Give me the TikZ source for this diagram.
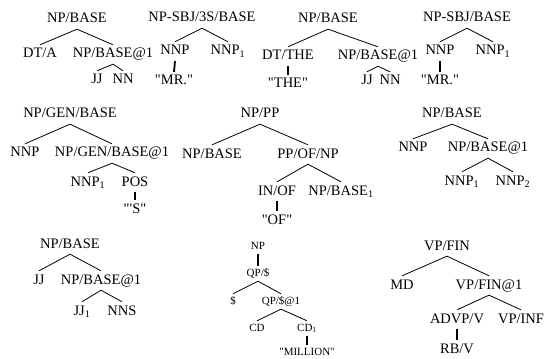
\documentclass[tikz,border=0pt]{standalone}
\usepackage{fontspec}
\newfontfamily\treefont{Liberation Serif}
\tikzset{
  tn/.style={anchor=base, inner xsep=1pt, inner ysep=3pt, text height=10pt, text depth=3pt, font=\treefont\fontsize{14.5}{17}\selectfont},
  tsm/.style={anchor=base, inner xsep=1pt, inner ysep=2.5pt, text height=7.5pt, text depth=2.5pt, font=\treefont\fontsize{11}{13}\selectfont},
  br/.style={line width=0.8pt},
  un/.style={line width=1.8pt},
}
\begin{document}
\begin{tikzpicture}[x=1pt,y=-1pt]
\useasboundingbox (0,0) rectangle (545,358);
% tree 1
\node[tn] (a) at (77,23) {NP/BASE};
\node[tn] (a1) at (40,58) {DT/A};
\node[tn] (a2) at (113,58) {NP/BASE@1};
\node[tn] (a21) at (97,84) {JJ};
\node[tn] (a22) at (123,84) {NN};
\draw[br] (a1.north) -- (a.south) -- (a2.north);
\draw[br] (a21.north) -- (a2.south) -- (a22.north);
% tree 2
\node[tn] (b) at (202,22) {NP-SBJ/3S/BASE};
\node[tn] (b1) at (175,55) {NNP};
\node[tn] (b2) at (228,55) {NNP\textsubscript{1}};
\node[tn] (b11) at (174,85) {"MR."};
\draw[br] (b1.north) -- (b.south) -- (b2.north);
\draw[un] (b1.south) -- (b11.north);
% tree 3
\node[tn] (c) at (328,23) {NP/BASE};
\node[tn] (c1) at (288,60) {DT/THE};
\node[tn] (c2) at (378,60) {NP/BASE@1};
\node[tn] (c11) at (288,88) {"THE"};
\node[tn] (c21) at (367,85) {JJ};
\node[tn] (c22) at (390,85) {NN};
\draw[br] (c1.north) -- (c.south) -- (c2.north);
\draw[br] (c21.north) -- (c2.south) -- (c22.north);
\draw[un] (c1.south) -- (c11.north);
% tree 4
\node[tn] (d) at (467,22) {NP-SBJ/BASE};
\node[tn] (d1) at (440,55) {NNP};
\node[tn] (d2) at (493,55) {NNP\textsubscript{1}};
\node[tn] (d11) at (440,85) {"MR."};
\draw[br] (d1.north) -- (d.south) -- (d2.north);
\draw[un] (d1.south) -- (d11.north);
% tree 5
\node[tn] (e) at (70,118) {NP/GEN/BASE};
\node[tn] (e1) at (25,157) {NNP};
\node[tn] (e2) at (112,157) {NP/GEN/BASE@1};
\node[tn] (e21) at (88,186) {NNP\textsubscript{1}};
\node[tn] (e22) at (135,186) {POS};
\node[tn] (e221) at (135,213) {"'S"};
\draw[br] (e1.north) -- (e.south) -- (e2.north);
\draw[br] (e21.north) -- (e2.south) -- (e22.north);
\draw[un] (e22.south) -- (e221.north);
% tree 6
\node[tn] (f) at (260,118) {NP/PP};
\node[tn] (f1) at (212,158) {NP/BASE};
\node[tn] (f2) at (308,158) {PP/OF/NP};
\node[tn] (f21) at (277,195) {IN/OF};
\node[tn] (f22) at (341,195) {NP/BASE\textsubscript{1}};
\node[tn] (f211) at (277,224) {"OF"};
\draw[br] (f1.north) -- (f.south) -- (f2.north);
\draw[br] (f21.north) -- (f2.south) -- (f22.north);
\draw[un] (f21.south) -- (f211.north);
% tree 7
\node[tn] (g) at (452,118) {NP/BASE};
\node[tn] (g1) at (413,152) {NNP};
\node[tn] (g2) at (488,152) {NP/BASE@1};
\node[tn] (g21) at (462,185) {NNP\textsubscript{1}};
\node[tn] (g22) at (513,185) {NNP\textsubscript{2}};
\draw[br] (g1.north) -- (g.south) -- (g2.north);
\draw[br] (g21.north) -- (g2.south) -- (g22.north);
% tree 8
\node[tn] (h) at (70,248) {NP/BASE};
\node[tn] (h1) at (39,284) {JJ};
\node[tn] (h2) at (101,284) {NP/BASE@1};
\node[tn] (h21) at (82,315) {JJ\textsubscript{1}};
\node[tn] (h22) at (122,315) {NNS};
\draw[br] (h1.north) -- (h.south) -- (h2.north);
\draw[br] (h21.north) -- (h2.south) -- (h22.north);
% tree 9
\node[tsm] (k) at (258,249) {NP};
\node[tsm] (k1) at (258,276) {QP/\$};
\node[tsm] (k11) at (233,304) {\$};
\node[tsm] (k12) at (281,304) {QP/\$@1};
\node[tsm] (k121) at (257,331) {CD};
\node[tsm] (k122) at (307,331) {CD\textsubscript{1}};
\node[tsm] (k1221) at (307,355) {"MILLION"};
\draw[un] (k.south) -- (k1.north);
\draw[br] (k11.north) -- (k1.south) -- (k12.north);
\draw[br] (k121.north) -- (k12.south) -- (k122.north);
\draw[un] (k122.south) -- (k1221.north);
% tree 10
\node[tn] (m) at (447,250) {VP/FIN};
\node[tn] (m1) at (402,289) {MD};
\node[tn] (m2) at (489,289) {VP/FIN@1};
\node[tn] (m21) at (457,323) {ADVP/V};
\node[tn] (m22) at (521,323) {VP/INF};
\node[tn] (m211) at (457,353) {RB/V};
\draw[br] (m1.north) -- (m.south) -- (m2.north);
\draw[br] (m21.north) -- (m2.south) -- (m22.north);
\draw[un] (m21.south) -- (m211.north);
\end{tikzpicture}
\end{document}
